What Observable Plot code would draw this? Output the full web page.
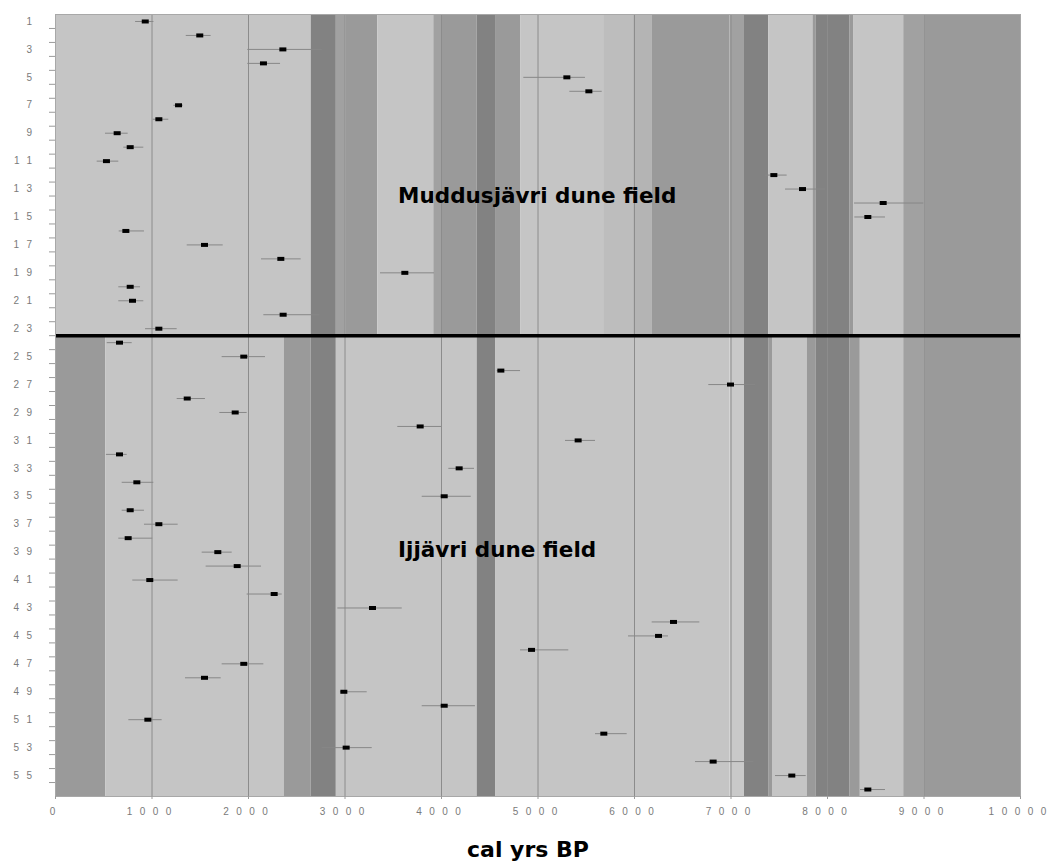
<!DOCTYPE html>
<html><head><meta charset="utf-8">
<script src="https://cdn.jsdelivr.net/npm/d3@7"></script>
<script src="https://cdn.jsdelivr.net/npm/@observablehq/plot@0.6"></script>
<style>
body{margin:0;background:#fff}
#chart svg{display:block}
#chart [aria-label="y-axis tick label"] text{letter-spacing:7.5px}
</style></head><body><div id="chart"></div>
<script>
// sample numbers (rows)
const samples = d3.range(1, 57);
// calibrated ages (cal yrs BP): central value, lower and upper bounds
const ages  = [930,1495,2356,2155,5299,5527,1275,1071,639,774,528,7444,7741,8577,8418,729,1544,2335,3620,774,798,2359,1071,
               663,1951,4615,6995,1365,1862,3779,5416,663,4183,843,4028,774,1071,753,1682,1883,977,2266,3285,6404,6249,4933,1951,1544,2988,4028,957,5682,3012,6815,7630,8418];
const ageLo = [830,1355,1993,1993,4853,5330,1226,1012,518,708,432,7358,7565,8280,8283,660,1365,2135,3368,656,656,2159,933,
               536,1727,4577,6770,1261,1703,3547,5285,528,4076,691,3800,691,922,656,1520,1561,801,1986,2926,6183,5938,4819,1727,1347,2953,3800,760,5596,2764,6632,7461,8342];
const ageHi = [1020,1613,2764,2332,5492,5665,1323,1174,753,915,656,7582,7979,8998,8601,922,1738,2546,3927,881,915,2739,1261,
               795,2176,4819,7254,1554,1986,4000,5596,743,4342,1019,4308,922,1271,1008,1831,2135,1271,2349,3593,6677,6352,5319,2159,1717,3230,4352,1105,5924,3282,7237,7779,8601];

// background bands: [start, end, shade]
const topBands = [
  [0,2650,"light"],[2650,2910,"dark"],[2910,3010,"mid2"],[3010,3340,"mid"],[3340,3920,"light"],
  [3920,4010,"mid2"],[4010,4370,"mid"],[4370,4560,"dark"],[4560,4820,"mid"],[4820,5680,"light"],
  [5680,5990,"light2"],[5990,6180,"light3"],[6180,6990,"mid"],[6990,7140,"mid2"],[7140,7390,"dark"],
  [7390,7850,"light"],[7850,7880,"mid"],[7880,8230,"dark"],[8230,8270,"mid"],[8270,8790,"light"],
  [8790,9000,"mid2"],[9000,10000,"mid"]
];
const bottomBands = [
  [0,520,"mid"],[520,2370,"light"],[2370,2650,"mid"],[2650,2910,"dark"],[2910,4370,"light"],
  [4370,4560,"dark"],[4560,6990,"light"],[6990,7140,"light0"],[7140,7390,"dark"],[7390,7430,"mid"],
  [7430,7790,"light"],[7790,7880,"mid"],[7880,8230,"dark"],[8230,8340,"mid"],[8340,8790,"light"],
  [8790,9000,"mid2"],[9000,10000,"mid"]
];
const shadeNames  = ["light0","light","light2","light3","mid2","mid","dark"];
const shadeColors = ["#c9c9c9","#c5c5c5","#bdbdbd","#b4b4b4","#a1a1a1","#9a9a9a","#828282"];

const fields = ["Muddusjävri dune field", "Ijjävri dune field"];
const xTitle = "cal yrs BP";
const xTicks = d3.range(0, 10001, 1000);
const yLabelTicks = d3.range(1, 56, 2);

const rows = samples.map((s, i) => ({sample: s, age: ages[i], lo: ageLo[i], hi: ageHi[i]}));
const bands = [
  ...topBands.map(([a, b, s]) => ({x1: a, x2: b, y1: 0.5, y2: 23.5, shade: s})),
  ...bottomBands.map(([a, b, s]) => ({x1: a, x2: b, y1: 23.5, y2: 56.5, shade: s}))
];
const boxSymbol = {draw(ctx) { ctx.rect(-3.5, -2, 7, 4); }};

const chart = Plot.plot({
  width: 1048, height: 862,
  marginLeft: 55, marginRight: 28, marginTop: 14, marginBottom: 66,
  style: {fontFamily: "'Liberation Sans', Arial, sans-serif", fontSize: "10px", background: "#fff"},
  x: {domain: [0, 10000]},
  y: {domain: [0.5, 56.5], reverse: true},
  color: {type: "ordinal", domain: shadeNames, range: shadeColors},
  marks: [
    Plot.rect(bands, {x1: "x1", x2: "x2", y1: "y1", y2: "y2", fill: "shade"}),
    Plot.ruleX(xTicks.slice(1, -1), {y1: 0.5, y2: 56.5, stroke: "#8c8c8c", strokeWidth: 1}),
    Plot.ruleY(rows, {y: "sample", x1: "lo", x2: "hi", stroke: "#878787", strokeWidth: 1}),
    Plot.dot(rows, {x: "age", y: "sample", symbol: boxSymbol, fill: "#000", stroke: "none"}),
    Plot.ruleY([23.5], {x1: 0, x2: 10000, stroke: "#000", strokeWidth: 3.5}),
    Plot.frame({stroke: "#a8a8a8"}),
    Plot.text([fields[0]], {x: 3550, y: 13.54, textAnchor: "start", lineAnchor: "middle",
      fontFamily: "'DejaVu Sans', sans-serif", fontWeight: "bold", fontSize: 21.5, fill: "#000"}),
    Plot.text([fields[1]], {x: 3550, y: 38.82, textAnchor: "start", lineAnchor: "middle",
      fontFamily: "'DejaVu Sans', sans-serif", fontWeight: "bold", fontSize: 21.5, fill: "#000"}),
    Plot.axisY(d3.range(1.5, 56, 1), {tickSize: 6, tickFormat: () => "", stroke: "#9a9a9a", label: null}),
    Plot.axisY(yLabelTicks, {tickSize: 0, tickPadding: 16, fill: "#7a7a7a", label: null}),
    Plot.axisX(xTicks, {tickSize: 3, tickPadding: 8, tickFormat: d3.format("d"), fill: "#7a7a7a", stroke: "#9a9a9a", label: null}),
    Plot.text([xTitle], {frameAnchor: "bottom", dx: -10, dy: 53, lineAnchor: "middle",
      fontFamily: "'DejaVu Sans', sans-serif", fontWeight: "bold", fontSize: 22, fill: "#000"})
  ]
});
// spread the x tick digits apart (as in the reference) without trailing space
d3.select(chart).selectAll('[aria-label="x-axis tick label"] text').each(function() {
  const s = this.textContent;
  const t = d3.select(this);
  t.text(null).attr("x", -3);
  [...s].forEach((c, i) => t.append("tspan").attr("dx", i === 0 ? 0 : 7.5).text(c));
});
document.getElementById("chart").appendChild(chart);
</script></body></html>
